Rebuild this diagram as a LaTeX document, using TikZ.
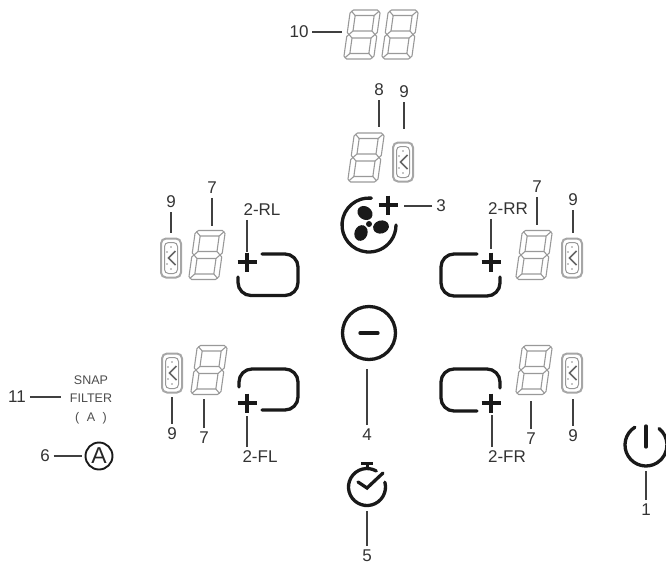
\documentclass[tikz,border=0pt]{standalone}
\usepackage{fontspec}
\setmainfont{Liberation Sans}
\usetikzlibrary{
  positioning,
  calc
}

\begin{document}
\begin{tikzpicture}[
  x=1pt, y=-1pt,
  font=\fontsize{17}{19}\selectfont,
  lbl/.style={
    text=black!80,
    inner sep=1pt,
    outer sep=3pt
  },
  smalllbl/.style={
    text=black!70,
    inner sep=0pt,
    font=\fontsize{12.5}{14}\selectfont
  },
  lead/.style={
    draw=black!75,
    line width=1.1pt
  },
  icon/.style={
    draw=black!90,
    line width=3.3pt,
    line cap=round
  },
  digit/.pic={
    \begin{scope}[xslant=0.14, draw=black!40, line width=1.1pt, line join=round]
      % outer frame
      \draw (-12,-24.5) -- (12,-24.5) -- (15,-21.5) -- (15,-2) -- (13,0) -- (15,2) -- (15,21.5)
        -- (12,24.5) -- (-12,24.5) -- (-15,21.5) -- (-15,2) -- (-13,0) -- (-15,-2) -- (-15,-21.5) -- cycle;
      % windows
      \draw (-9.5,-19) rectangle (9.5,-3.5);
      \draw (-9.5,3.5) rectangle (9.5,19);
      % segment joints
      \draw (-9.5,-19) -- (-14,-23.5) (9.5,-19) -- (14,-23.5);
      \draw (-9.5,19) -- (-14,23.5) (9.5,19) -- (14,23.5);
      \draw (-9.5,-3.5) -- (-13,0) -- (-9.5,3.5) (9.5,-3.5) -- (13,0) -- (9.5,3.5);
    \end{scope}
  },
  gauge/.pic={
    \draw[draw=black!35, line width=2pt, rounded corners=5pt] (-10,-19.5) rectangle (10,19.5);
    \draw[draw=black!40, line width=1pt, rounded corners=4pt] (-6.5,-15.5) rectangle (6.5,15.5);
    \draw[draw=black!60, line width=1.6pt] (4.5,-7) -- (-2.5,0) -- (4.5,7);
    \fill[black!45] (0,-11) circle (0.8) (-4,-6) circle (0.8) (-4,6) circle (0.8) (0,11) circle (0.8);
  },
  plusmark/.pic={
    \draw[draw=black!90, line width=4pt] (-9.5,0) -- (9.5,0) (0,-9.5) -- (0,9.5);
  }
]

\useasboundingbox (0,0) rectangle (666,565);

% Digit displays
\foreach \px/\py in {362/34.5, 400/34.5, 366/157.5, 207/255, 534/255, 209/370, 534/370} {
  \pic at (\px,\py) {digit};
}

% Level gauges
\foreach \px/\py in {403/162, 171/258, 572/258, 172/373, 572/373} {
  \pic at (\px,\py) {gauge};
}

% Zone buttons
\pic at (247,262) {plusmark};
\pic at (491,262) {plusmark};
\pic at (247,403) {plusmark};
\pic at (491,403) {plusmark};
\draw[icon, rounded corners=13pt] (262,254) -- (298,254) -- (298,295.5) -- (238,295.5) -- (238,277);
\draw[icon, rounded corners=13pt] (477,254) -- (441,254) -- (441,296) -- (500,296) -- (500,277);
\draw[icon, rounded corners=13pt] (239,387) -- (239,369) -- (298,369) -- (298,410) -- (262,410);
\draw[icon, rounded corners=13pt] (500,388) -- (500,369) -- (441,369) -- (441,411) -- (477,411);

% Fan button
\draw[icon] (369,225) ++(-85:27) arc (-85:-360:27);
\pic at (388,205) {plusmark};
\fill[black!90, rotate around={-35:(365,213)}] (365,213) ellipse (8 and 6.5);
\fill[black!90, rotate around={15:(381,227)}] (381,227) ellipse (8 and 6.5);
\fill[black!90, rotate around={70:(361,233)}] (361,233) ellipse (8 and 6.5);
\fill[black!90] (369,224) circle (3);

% Minus button
\node[circle, draw=black!90, line width=3.3pt, minimum size=53pt, inner sep=0pt] (minusbtn) at (369,333) {};
\draw[icon] (360,333) -- (378,333);

% Timer button
\draw[icon] (367,487) ++(-60:18.5) arc (-60:-375:18.5);
\draw[icon] (358,482) -- (367,488) -- (383,473);
\draw[black!90, line width=3.5pt] (361,463.5) -- (373,463.5);
\draw[black!90, line width=3pt] (367,463.5) -- (367,469);

% Power button
\draw[icon] (646,445) ++(-122:21) arc (-122:-412:21);
\draw[icon] (646,426) -- (646,447);

% Filter button
\node[circle, draw=black!90, line width=1.9pt, minimum size=27pt, inner sep=0pt,
      font=\fontsize{23}{23}\selectfont, text=black!85] (filterbtn) at (99,456) {A};
\node[smalllbl] (snap) at (91,380) {SNAP};
\node[smalllbl] (filter) at (91,398) {FILTER};
\node[smalllbl] (filtera) at (91,418) {\spaceskip=0.6em ( A )};

% Labels
\node[lbl] (lab10) at (299,32) {10};
\node[lbl] (lab8) at (379,90) {8};
\node[lbl] (lab9c) at (404,92) {9};
\node[lbl] (lab3) at (441,206) {3};
\node[lbl] (lab9rl) at (171,202) {9};
\node[lbl] (lab7rl) at (212,188) {7};
\node[lbl] (lab2rl) at (262,210) {2-RL};
\node[lbl] (lab2rr) at (508,209) {2-RR};
\node[lbl] (lab7rr) at (537,187) {7};
\node[lbl] (lab9rr) at (573,200) {9};
\node[lbl] (lab9fl) at (172,434) {9};
\node[lbl] (lab7fl) at (204,438) {7};
\node[lbl] (lab2fl) at (260,457) {2-FL};
\node[lbl] (lab4) at (367,435) {4};
\node[lbl] (lab5) at (367,556) {5};
\node[lbl] (lab2fr) at (507,457) {2-FR};
\node[lbl] (lab7fr) at (531,439) {7};
\node[lbl] (lab9fr) at (573,436) {9};
\node[lbl] (lab1) at (646,510) {1};
\node[lbl] (lab11) at (17,397) {11};
\node[lbl] (lab6) at (45,456) {6};

% Leader ends
\coordinate (end10) at (342,32);
\coordinate (end8) at (379,127);
\coordinate (end9c) at (404,129);
\coordinate (end3) at (404,206);
\coordinate (end9rl) at (171,233);
\coordinate (end7rl) at (212,226);
\coordinate (end2rl) at (247,252);
\coordinate (end2rr) at (491,249);
\coordinate (end7rr) at (537,225);
\coordinate (end9rr) at (573,233);
\coordinate (end9fl) at (172,397);
\coordinate (end7fl) at (204,399);
\coordinate (end2fl) at (247,416);
\coordinate (end4) at (367,369);
\coordinate (end5) at (367,511);
\coordinate (end2fr) at (492,415);
\coordinate (end7fr) at (531,401);
\coordinate (end9fr) at (573,399);
\coordinate (end1) at (646,471);
\coordinate (end11) at (61,397);
\coordinate (end6) at (82,456);

% Leaders
\foreach \from/\to in {lab10/end10, lab3/end3, lab6/end6, lab11/end11,
  lab8/end8, lab9c/end9c, lab9rl/end9rl, lab7rl/end7rl, lab7rr/end7rr, lab9rr/end9rr,
  lab9fl/end9fl, lab7fl/end7fl, lab4/end4, lab5/end5, lab7fr/end7fr, lab9fr/end9fr, lab1/end1} {
  \draw[lead] (\from) -- (\to);
}
\draw[lead] (lab2rl.south -| end2rl) -- (end2rl);
\draw[lead] (lab2rr.south -| end2rr) -- (end2rr);
\draw[lead] (lab2fl.north -| end2fl) -- (end2fl);
\draw[lead] (lab2fr.north -| end2fr) -- (end2fr);

\end{tikzpicture}
\end{document}
